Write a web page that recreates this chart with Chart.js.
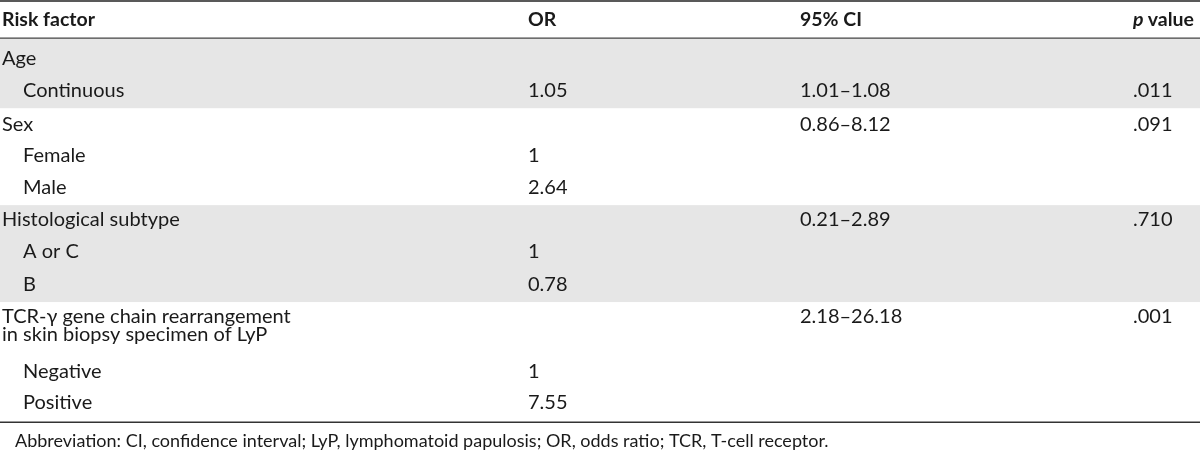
<!DOCTYPE html>
<html>
<head>
<meta charset="utf-8">
<script src="https://cdn.jsdelivr.net/npm/chart.js@4"></script>
<style>
  body { margin: 0; background: #fff; }
  #wrap { width: 1200px; height: 450px; }
</style>
</head>
<body>
<div id="wrap"><canvas id="myChart"></canvas></div>
<script>
const headers = ['Risk factor', 'OR', '95% CI', 'p value'];
const rowLabels = [
  'Age',
  'Continuous',
  'Sex',
  'Female',
  'Male',
  'Histological subtype',
  'A or C',
  'B',
  'TCR-\u03b3 gene chain rearrangement|in skin biopsy specimen of LyP',
  'Negative',
  'Positive',
];
const indented = [0, 1, 0, 1, 1, 0, 1, 1, 0, 1, 1];
const orValues = ['', '1.05', '', '1', '2.64', '', '1', '0.78', '', '1', '7.55'];
const ciValues = ['', '1.01\u20131.08', '0.86\u20138.12', '', '', '0.21\u20132.89', '', '', '2.18\u201326.18', '', ''];
const pValues = ['', '.011', '.091', '', '', '.710', '', '', '.001', '', ''];
const footnote = 'Abbreviation: CI, confidence interval; LyP, lymphomatoid papulosis; OR, odds ratio; TCR, T-cell receptor.';

// row slots on the y scale (one unit = one text line)
const rowPos = [0, 1, 2.05, 3, 4, 5, 6, 7, 8, 9.7, 10.65];
const headerPos = -1.18;
const footPos = 11.86;
// shaded groups: [top, bottom] in row units
const bands = [[-0.62, 1.55], [4.55, 7.55]];
// column anchors on the x scale
const colX = [2, 528, 800, 1133];
const indentX = 21;
const footX = 15;
const wrapStep = 0.55;

const FONT = 'Lato, "Open Sans", sans-serif';
const ink = '#1a1a1a';

const tablePlugin = {
  id: 'tableText',
  beforeDatasetsDraw(chart) {
    const { ctx, scales: { x, y } } = chart;
    ctx.save();
    ctx.fillStyle = '#e6e6e6';
    bands.forEach(([a, b]) => {
      const top = y.getPixelForValue(a);
      const bot = y.getPixelForValue(b);
      ctx.fillRect(x.getPixelForValue(0), top, x.getPixelForValue(1200) - x.getPixelForValue(0), bot - top);
    });
    ctx.restore();
  },
  afterDatasetsDraw(chart) {
    const { ctx, scales: { x, y } } = chart;
    ctx.save();
    ctx.fillStyle = ink;
    ctx.textBaseline = 'middle';
    ctx.textAlign = 'left';

    // header
    const hy = y.getPixelForValue(headerPos);
    ctx.font = 'bold 19.5px ' + FONT;
    ctx.fillText(headers[0], x.getPixelForValue(colX[0]), hy);
    ctx.fillText(headers[1], x.getPixelForValue(colX[1]), hy);
    ctx.fillText(headers[2], x.getPixelForValue(colX[2]), hy);
    ctx.font = 'italic bold 19.5px ' + FONT;
    const px = x.getPixelForValue(colX[3]);
    ctx.fillText('p', px, hy);
    const pw = ctx.measureText('p ').width;
    ctx.font = 'bold 19.5px ' + FONT;
    ctx.fillText(headers[3].slice(2), px + pw, hy);

    // body
    ctx.font = '20px ' + FONT;
    rowLabels.forEach((lab, i) => {
      const ry = y.getPixelForValue(rowPos[i]);
      const lx = x.getPixelForValue(colX[0] + (indented[i] ? indentX : 0));
      lab.split('|').forEach((line, k) => {
        ctx.fillText(line, lx, y.getPixelForValue(rowPos[i] + k * wrapStep));
      });
      if (orValues[i]) ctx.fillText(orValues[i], x.getPixelForValue(colX[1]), ry);
      if (ciValues[i]) ctx.fillText(ciValues[i], x.getPixelForValue(colX[2]), ry);
      if (pValues[i]) ctx.fillText(pValues[i], x.getPixelForValue(colX[3]), ry);
    });

    ctx.font = '18px ' + FONT;
    ctx.fillText(footnote, x.getPixelForValue(footX), y.getPixelForValue(footPos));
    ctx.restore();
  }
};

const rules = [
  { y: -1.77, w: 1.5, c: '#222' },
  { y: -0.62, w: 1.2, c: '#444' },
  { y: 11.27, w: 1.5, c: '#333' },
];

const data = {
  datasets: rules.map(r => ({
    data: [{ x: 0, y: r.y }, { x: 1200, y: r.y }],
    showLine: true,
    borderColor: r.c,
    borderWidth: r.w,
    pointRadius: 0,
    clip: false,
  }))
};

const config = {
  type: 'scatter',
  data: data,
  options: {
    responsive: true,
    maintainAspectRatio: false,
    animation: false,
    layout: { padding: 0 },
    plugins: { legend: { display: false }, tooltip: { enabled: false } },
    scales: {
      x: { type: 'linear', min: 0, max: 1200, display: false },
      y: { type: 'linear', min: -1.8, max: 12.13, reverse: true, display: false },
    }
  },
  plugins: [tablePlugin]
};

const myChart = new Chart(document.getElementById('myChart'), config);
</script>
</body>
</html>
